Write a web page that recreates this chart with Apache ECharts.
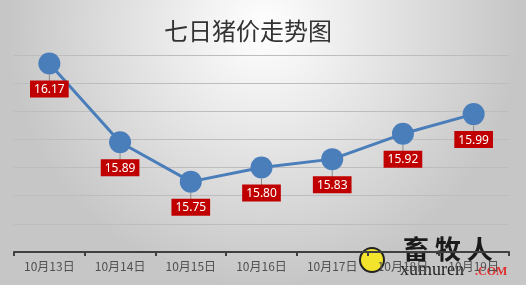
<!DOCTYPE html>
<html><head><meta charset="utf-8">
<script src="https://cdn.jsdelivr.net/npm/echarts@6/dist/echarts.min.js"></script>
<style>html,body{margin:0;padding:0;}#c{width:526px;height:285px;}</style>
</head><body><div id="c"></div>
<script>
const categories = ['10月13日','10月14日','10月15日','10月16日','10月17日','10月18日','10月19日'];
const prices = [16.17, 15.89, 15.75, 15.80, 15.83, 15.92, 15.99];
const titleText = '七日猪价走势图';

const chart = echarts.init(document.getElementById('c'));
chart.setOption({
  animation: false,
  backgroundColor: {
    type: 'radial', x: 0.5, y: 0.1, r: 0.9,
    colorStops: [{offset: 0, color: '#ffffff'}, {offset: 1, color: '#c6c6c6'}]
  },
  title: {
    text: titleText, left: 159, top: 14,
    textStyle: {fontFamily: 'Noto Sans CJK SC', fontSize: 24, fontWeight: 'normal', color: '#333333'}
  },
  grid: {left: 14, right: 17, top: 55, bottom: 33},
  xAxis: {
    type: 'category', data: categories, boundaryGap: true,
    axisLine: {lineStyle: {color: '#404040', width: 2}},
    axisTick: {show: true, inside: false, length: 4, lineStyle: {color: '#404040', width: 2}},
    axisLabel: {color: '#505050', fontSize: 12, margin: 8, fontFamily: 'Noto Sans CJK SC'}
  },
  yAxis: {
    type: 'value', min: 15.5, max: 16.2, interval: 0.1,
    axisLabel: {show: false}, axisLine: {show: false}, axisTick: {show: false},
    splitLine: {lineStyle: {color: '#bdbdbd', width: 1}}
  },
  series: [{
    type: 'line', data: prices,
    symbol: 'circle', symbolSize: 22,
    lineStyle: {color: '#4a7ebb', width: 3},
    itemStyle: {color: '#4a7ebb'},
    label: {
      show: true, position: 'bottom', distance: 6,
      color: '#ffffff', backgroundColor: '#c00000',
      fontSize: 12, fontFamily: 'Noto Sans', padding: [3, 4, 2, 4],
      formatter: p => p.value.toFixed(2)
    },
    labelLine: {show: true, lineStyle: {color: '#8c8c8c', width: 1}}
  }],
  graphic: [
    {type: 'circle', shape: {cx: 372, cy: 260, r: 12}, style: {fill: '#f2e32c', stroke: '#222', lineWidth: 2}},
    {type: 'text', left: 403, top: 236, style: {text: '畜 牧 人', fontSize: 26, fontWeight: 'bold', fill: '#1a1a1a', fontFamily: 'Noto Sans CJK SC'}},
    {type: 'text', left: 400, top: 261, style: {text: 'xumuren', fontSize: 18, fill: '#222', fontFamily: 'Liberation Serif'}},
    {type: 'text', left: 475, top: 266, style: {text: '.COM', fontSize: 12, fill: '#e03030', fontWeight: 'bold', fontFamily: 'Liberation Serif'}}
  ]
});
</script></body></html>
